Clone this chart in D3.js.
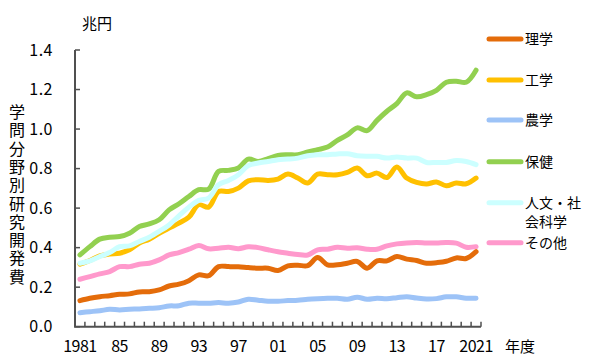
<!DOCTYPE html>
<html><head><meta charset="utf-8">
<script src="https://cdn.jsdelivr.net/npm/d3@7"></script>
<style>
html,body{margin:0;padding:0;background:#fff;}
text{font-family:"Noto Sans CJK JP","Noto Sans",sans-serif;fill:#000;}
</style></head>
<body><svg id="c" width="600" height="360"></svg>
<script>
const years = d3.range(1981, 2022);
const seriesNames = ["理学","工学","農学","保健","人文・社会科学","その他"];
const seriesColors = ["#E46C0A","#FFC000","#9DC3F7","#92D050","#CCFFFF","#FF99CC"];
const rigaku = [0.132,0.144,0.152,0.157,0.164,0.166,0.176,0.177,0.186,0.206,0.215,0.233,0.262,0.258,0.304,0.304,0.303,0.299,0.296,0.296,0.284,0.308,0.311,0.309,0.350,0.313,0.313,0.321,0.330,0.296,0.333,0.333,0.355,0.342,0.335,0.321,0.324,0.331,0.348,0.345,0.380];
const kogaku = [0.316,0.335,0.358,0.368,0.372,0.389,0.423,0.443,0.473,0.499,0.524,0.554,0.617,0.605,0.684,0.684,0.701,0.738,0.744,0.740,0.747,0.772,0.752,0.727,0.772,0.769,0.769,0.781,0.803,0.764,0.777,0.755,0.808,0.752,0.730,0.722,0.732,0.713,0.727,0.723,0.752];
const nogaku = [0.071,0.076,0.081,0.088,0.085,0.088,0.090,0.093,0.096,0.105,0.106,0.119,0.119,0.119,0.122,0.119,0.125,0.139,0.134,0.129,0.129,0.132,0.134,0.139,0.142,0.144,0.144,0.139,0.149,0.139,0.144,0.142,0.147,0.152,0.145,0.140,0.142,0.151,0.151,0.144,0.144];
const hoken = [0.363,0.405,0.443,0.453,0.456,0.473,0.507,0.520,0.541,0.591,0.622,0.659,0.693,0.696,0.786,0.791,0.803,0.848,0.836,0.850,0.867,0.870,0.870,0.884,0.896,0.909,0.943,0.970,1.006,0.992,1.044,1.090,1.129,1.183,1.163,1.174,1.196,1.237,1.242,1.237,1.298];
const jinbun = [0.321,0.333,0.355,0.375,0.405,0.409,0.431,0.453,0.482,0.515,0.561,0.605,0.639,0.651,0.718,0.740,0.769,0.815,0.828,0.836,0.845,0.848,0.853,0.865,0.870,0.870,0.874,0.875,0.865,0.862,0.862,0.853,0.859,0.853,0.853,0.831,0.831,0.831,0.841,0.836,0.820];
const sonota = [0.240,0.253,0.267,0.279,0.304,0.304,0.316,0.321,0.338,0.363,0.375,0.392,0.411,0.394,0.397,0.402,0.395,0.404,0.400,0.389,0.379,0.372,0.365,0.363,0.389,0.392,0.402,0.397,0.399,0.392,0.392,0.409,0.419,0.424,0.426,0.424,0.424,0.426,0.423,0.402,0.405];
const xTickYears = [1981,1985,1989,1993,1997,2001,2005,2009,2013,2017,2021];
const xTickLabels = ["1981","85","89","93","97","01","05","09","13","17","2021"];
const yTicks = [0,0.2,0.4,0.6,0.8,1.0,1.2,1.4];

const seriesData = [rigaku,kogaku,nogaku,hoken,jinbun,sonota];
const svg = d3.select("#c");
const x = d3.scaleBand().domain(years).range([75,481]).padding(0);
const y = d3.scaleLinear().domain([0,1.4]).range([326.7,50]);
const cx = d => x(d) + x.bandwidth()/2;

// lines
const line = d3.line().x((v,i)=>cx(years[i])).y(v=>y(v)).curve(d3.curveCatmullRom.alpha(0.5));
seriesData.forEach((vals,k)=>{
  svg.append("path").attr("d", line(vals)).attr("fill","none")
    .attr("stroke", seriesColors[k]).attr("stroke-width",5)
    .attr("stroke-linejoin","round").attr("stroke-linecap","round");
});

// axes
const axisColor = "#505050";
svg.append("line").attr("x1",75).attr("x2",75).attr("y1",y(1.4)).attr("y2",y(0)).attr("stroke",axisColor).attr("stroke-width",2);
svg.append("line").attr("x1",74).attr("x2",481).attr("y1",y(0)).attr("y2",y(0)).attr("stroke",axisColor).attr("stroke-width",2);
yTicks.forEach(t=>{
  svg.append("line").attr("x1",75).attr("x2",80).attr("y1",y(t)).attr("y2",y(t)).attr("stroke",axisColor).attr("stroke-width",1.5);
  svg.append("text").attr("x",53).attr("y",y(t)).attr("dy","0.36em").attr("text-anchor","end")
    .style("font-size","16px").style("letter-spacing","0.5px").text(d3.format(".1f")(t));
});
years.forEach(yr=>{
  const xb = x(yr)+x.bandwidth();
  svg.append("line").attr("x1",xb).attr("x2",xb).attr("y1",y(0)).attr("y2",y(0)-5).attr("stroke",axisColor).attr("stroke-width",1.5);
});
xTickYears.forEach((yr,i)=>{
  svg.append("text").attr("x",cx(yr)).attr("y",352).attr("text-anchor","middle")
    .style("font-size","16px").style("letter-spacing","-0.5px").text(xTickLabels[i]);
});
svg.append("text").attr("x",505).attr("y",352).style("font-size","15px").text("年度");
svg.append("text").attr("x",82).attr("y",29).style("font-size","15px").text("兆円");
svg.append("text").attr("x",17).attr("y",104).style("font-size","16px")
  .style("writing-mode","vertical-rl").style("letter-spacing","2.3px").text("学問分野別研究開発費");

// legend
const legY = [39,80,120,161.7,202.7,242.7];
seriesNames.forEach((n,k)=>{
  svg.append("line").attr("x1",489).attr("x2",521).attr("y1",legY[k]).attr("y2",legY[k])
    .attr("stroke",seriesColors[k]).attr("stroke-width",5).attr("stroke-linecap","round");
  if(n==="人文・社会科学"){
    const t = svg.append("text").attr("x",525).attr("y",legY[k]).style("font-size","14px");
    t.append("tspan").attr("x",525).attr("dy","0.36em").text("人文・社");
    t.append("tspan").attr("x",525).attr("dy","19px").text("会科学");
  } else {
    svg.append("text").attr("x",525).attr("y",legY[k]).attr("dy","0.36em").style("font-size","14px").text(n);
  }
});
</script></body></html>
